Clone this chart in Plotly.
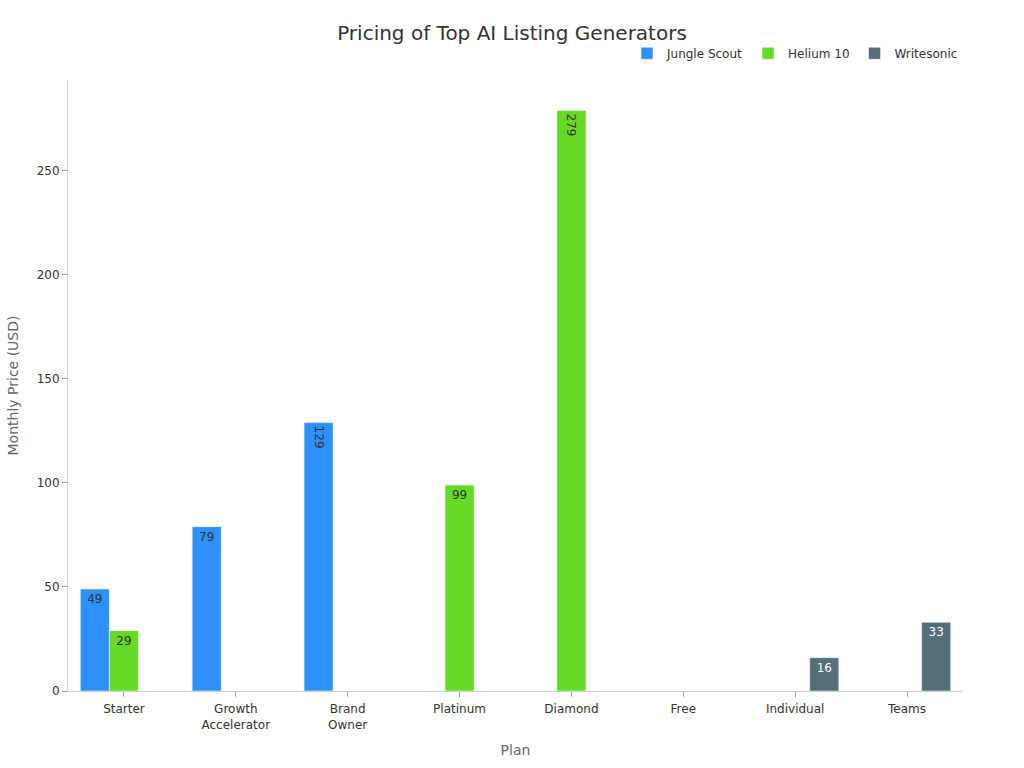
import plotly.graph_objects as go

categories = ["Starter", "Growth<br>Accelerator", "Brand<br>Owner", "Platinum", "Diamond", "Free", "Individual", "Teams"]
jungle_scout = [49, 79, 129, None, None, None, None, None]
helium_10 = [29, None, None, 99, 279, None, None, None]
writesonic = [None, None, None, None, None, None, 16, 33]

series = [
    ("Jungle Scout", jungle_scout, "#2E90FA", "#333333"),
    ("Helium 10", helium_10, "#66D926", "#333333"),
    ("Writesonic", writesonic, "#546E7A", "#FFFFFF"),
]

fig = go.Figure()
for name, vals, color, tcolor in series:
    # labels too wide for the bar are drawn rotated (as in the reference)
    short = [v if (v is not None and v < 100) else None for v in vals]
    wide = [v if (v is not None and v >= 100) else None for v in vals]
    for part, angle, show in ((short, 0, True), (wide, 90, False)):
        fig.add_trace(go.Bar(
            name=name, x=categories, y=part,
            offsetgroup=name, legendgroup=name, showlegend=show,
            marker=dict(color=color, line=dict(color="rgba(255,255,255,0.5)", width=1)),
            text=[str(v) if v is not None else "" for v in part],
            textposition="inside", insidetextanchor="end", textangle=angle,
            textfont=dict(color=tcolor, size=12, family="DejaVu Sans"),
            hoverinfo="x+y+name",
        ))

fig.update_layout(
    width=1024, height=768,
    barmode="group", bargap=0.22, bargroupgap=0,
    paper_bgcolor="white", plot_bgcolor="white",
    font=dict(family="DejaVu Sans", color="#333333", size=12),
    title=dict(text="Pricing of Top AI Listing Generators", x=0.5, xanchor="center", y=0.957, yanchor="middle",
               font=dict(size=20, color="#333333")),
    margin=dict(l=68, r=61, t=80, b=73),
    legend=dict(orientation="h", x=1, xanchor="right", y=1.02, yanchor="bottom",
                font=dict(size=12, color="#333333"), itemwidth=30),
    xaxis=dict(title=dict(text="Plan", font=dict(size=14, color="#666666"), standoff=14),
               showline=True, linecolor="#cccccc", linewidth=1, ticks="outside", tickcolor="#999999",
               ticklen=5, showgrid=False, tickfont=dict(size=12, color="#333333"), ticklabelstandoff=2),
    yaxis=dict(title=dict(text="Monthly Price (USD)", font=dict(size=14, color="#666666"), standoff=14),
               showline=True, linecolor="#cccccc", linewidth=1, ticks="outside", tickcolor="#999999",
               ticklen=5, showgrid=False, zeroline=False, tickfont=dict(size=12, color="#333333"),
               dtick=50, rangemode="tozero"),
)

fig.write_html("out.html")
